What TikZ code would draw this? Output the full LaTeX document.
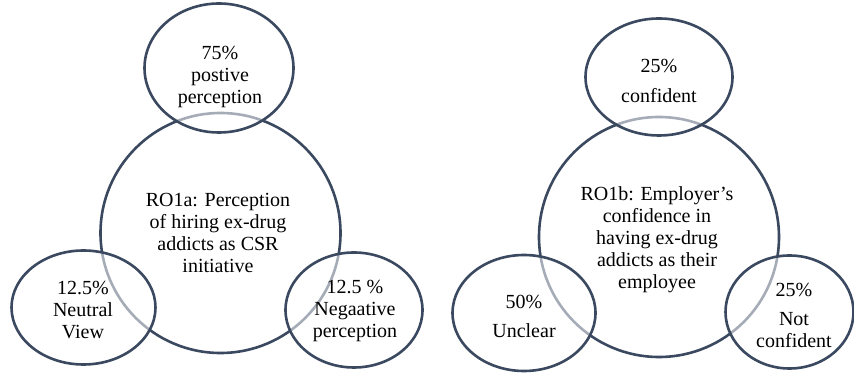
\documentclass[tikz,border=0pt]{standalone}
\usepackage{fontspec}
\newfontfamily\fa{Liberation Serif}
\usetikzlibrary{shapes.geometric}
\definecolor{lineblue}{HTML}{3B4960}
\begin{document}
\begin{tikzpicture}[x=1pt,y=1pt,
  bigc/.style={circle, draw=lineblue, line width=2.6pt, minimum size=240pt, inner sep=0pt},
  smalle/.style 2 args={ellipse, draw=lineblue, line width=2.6pt, fill=white, fill opacity=0.55, inner sep=0pt, minimum width=#1, minimum height=#2},
  lbl/.style={align=center, text=black, inner sep=0pt}]
\useasboundingbox[fill=white] (0,0) rectangle (854,374);
\node[bigc] (bigA) at (220.5,141) {};
\node[smalle={149pt}{129pt}] (topA) at (219,306) {};
\node[smalle={144pt}{114pt}] (leftA) at (83.5,66.5) {};
\node[smalle={137pt}{115pt}] (rightA) at (354,64) {};
\node[bigc] (bigB) at (659,137) {};
\node[smalle={147pt}{117pt}] (topB) at (659,297) {};
\node[smalle={143pt}{116pt}] (leftB) at (524,61) {};
\node[smalle={128pt}{113pt}] (rightB) at (789.5,62) {};
\node[lbl, font=\fa\fontsize{20}{22}\selectfont] (tA) at (220,297.5) {75\%\\postive\\perception};
\node[lbl, font=\fa\fontsize{20}{22}\selectfont] (cA) at (218,141) {RO1a: Perception\\of hiring ex-drug\\addicts as CSR\\initiative};
\node[lbl, font=\fa\fontsize{20}{22}\selectfont] (lA) at (83,63.5) {12.5\%\\Neutral\\View};
\node[lbl, font=\fa\fontsize{20}{22}\selectfont] (rA) at (355,63) {12.5 \%\\Negaative\\perception};
\node[lbl, font=\fa\fontsize{20}{22}\selectfont] (tB) at (659,293) {25\%\\[8pt]confident};
\node[lbl, font=\fa\fontsize{20}{22}\selectfont] (cB) at (657,134.5) {RO1b: Employer’s\\confidence in\\having ex-drug\\addicts as their\\employee};
\node[lbl, font=\fa\fontsize{20}{22}\selectfont] (lB) at (524,58) {50\%\\[7pt]Unclear};
\node[lbl, font=\fa\fontsize{20}{22}\selectfont] (rB) at (794,59) {25\%\\[7pt]Not\\confident};
\end{tikzpicture}
\end{document}
